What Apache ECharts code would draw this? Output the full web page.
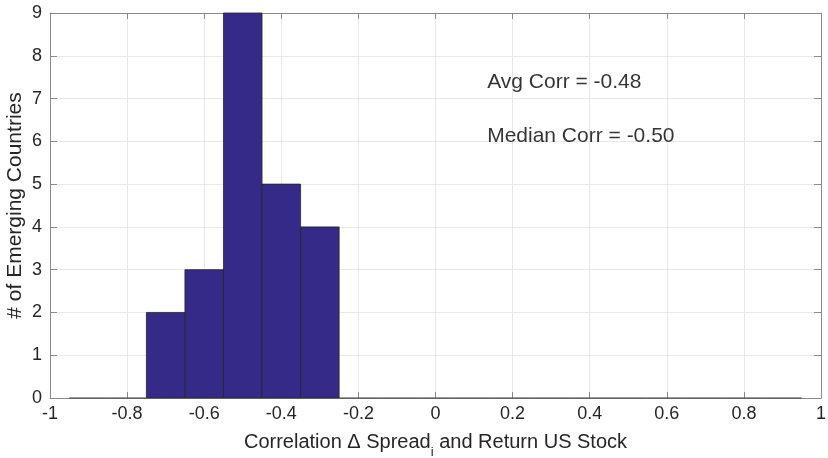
<!DOCTYPE html>
<html>
<head>
<meta charset="utf-8">
<script src="https://cdn.jsdelivr.net/npm/echarts@6/dist/echarts.min.js"></script>
<style>
  html, body { margin: 0; padding: 0; background: #fff; }
  #chart { width: 828px; height: 458px; }
</style>
</head>
<body>
<div id="chart"></div>
<script>
// Histogram bins (width 0.1) of country correlations
const binStart = [-0.95, -0.85, -0.75, -0.65, -0.55, -0.45, -0.35, -0.25, -0.15, -0.05,
                  0.05, 0.15, 0.25, 0.35, 0.45, 0.55, 0.65, 0.75, 0.85];
const binWidth = 0.1;
const counts = [0, 0, 2, 3, 9, 5, 4, 0, 0, 0, 0, 0, 0, 0, 0, 0, 0, 0, 0];
const xTicks = [-1, -0.8, -0.6, -0.4, -0.2, 0, 0.2, 0.4, 0.6, 0.8, 1];
const yTicks = [0, 1, 2, 3, 4, 5, 6, 7, 8, 9];
const notes = [
  { x: 0.134, y: 7.39, text: 'Avg Corr = -0.48' },
  { x: 0.134, y: 6.12, text: 'Median Corr = -0.50' }
];

const histData = binStart.map((s, i) => [s, s + binWidth, counts[i]]);
const font = 'Liberation Sans, Arial, Helvetica, sans-serif';
const axisGray = '#8a8a8a';
const gridGray = '#e8e8e8';
const textColor = '#262626';

const frameAxis = {
  axisLine: { show: true, onZero: false, lineStyle: { color: axisGray, width: 1 } },
  axisLabel: { show: false },
  splitLine: { show: false }
};

const chart = echarts.init(document.getElementById('chart'), null, { renderer: 'canvas' });
chart.setOption({
  animation: false,
  grid: {
    left: 50, right: 7, top: 13, bottom: 60, show: false,
    containLabel: false, outerBoundsMode: 'none'
  },
  xAxis: [{
    type: 'value', min: xTicks[0], max: xTicks[xTicks.length - 1], interval: 0.2,
    axisLine: { show: true, onZero: false, lineStyle: { color: axisGray, width: 1 } },
    axisTick: { show: true, inside: true, length: 6, lineStyle: { color: axisGray } },
    splitLine: { show: true, lineStyle: { color: gridGray, width: 1 } },
    axisLabel: {
      color: textColor, fontSize: 18, fontFamily: font, margin: 7,
      formatter: v => String(Math.round(v * 10) / 10)
    },
    name: 'Correlation Δ Spread{sub|i} and Return US Stock',
    nameLocation: 'middle', nameGap: 28, nameMoveOverlap: false,
    nameTextStyle: {
      color: textColor, fontSize: 20, fontFamily: font,
      rich: { sub: { fontSize: 13, fontFamily: font, color: textColor, padding: [20, 0, 0, 0] } }
    }
  }, Object.assign({
    type: 'value', position: 'top', min: xTicks[0], max: xTicks[xTicks.length - 1], interval: 0.2,
    axisTick: { show: true, inside: true, length: 6, lineStyle: { color: axisGray } }
  }, frameAxis)],
  yAxis: [{
    type: 'value', min: yTicks[0], max: yTicks[yTicks.length - 1], interval: 1,
    axisLine: { show: true, onZero: false, lineStyle: { color: axisGray, width: 1 } },
    axisTick: { show: true, inside: true, length: 7, lineStyle: { color: axisGray } },
    splitLine: { show: true, lineStyle: { color: gridGray, width: 1 } },
    axisLabel: { color: textColor, fontSize: 18, fontFamily: font, margin: 8 },
    name: '# of Emerging Countries', nameLocation: 'middle', nameGap: 24, nameRotate: 90,
    nameMoveOverlap: false,
    nameTextStyle: { color: textColor, fontSize: 21, fontFamily: font }
  }, Object.assign({
    type: 'value', position: 'right', min: yTicks[0], max: yTicks[yTicks.length - 1], interval: 1,
    axisTick: { show: true, inside: true, length: 7, lineStyle: { color: axisGray } }
  }, frameAxis)],
  series: [{
    type: 'custom',
    xAxisIndex: 0, yAxisIndex: 0,
    data: histData,
    encode: { x: [0, 1], y: 2 },
    renderItem: (params, api) => {
      const p0 = api.coord([api.value(0), 0]);
      const p1 = api.coord([api.value(1), api.value(2)]);
      if (api.value(2) === 0) {
        return {
          type: 'line',
          shape: { x1: p0[0], y1: p0[1], x2: p1[0], y2: p0[1] },
          style: { stroke: '#3a3a3a', lineWidth: 1 }
        };
      }
      return {
        type: 'rect',
        shape: { x: p0[0], y: p1[1], width: p1[0] - p0[0], height: p0[1] - p1[1] },
        style: { fill: '#352A87', stroke: '#262626', lineWidth: 0.8 }
      };
    },
    z: 3
  }, {
    type: 'scatter',
    xAxisIndex: 0, yAxisIndex: 0,
    data: notes.map(n => ({ value: [n.x, n.y], name: n.text })),
    symbolSize: 0,
    label: {
      show: true, position: 'right', distance: 0,
      formatter: p => p.name,
      color: '#000', fontSize: 21, fontFamily: font
    },
    z: 4
  }]
});
</script>
</body>
</html>
